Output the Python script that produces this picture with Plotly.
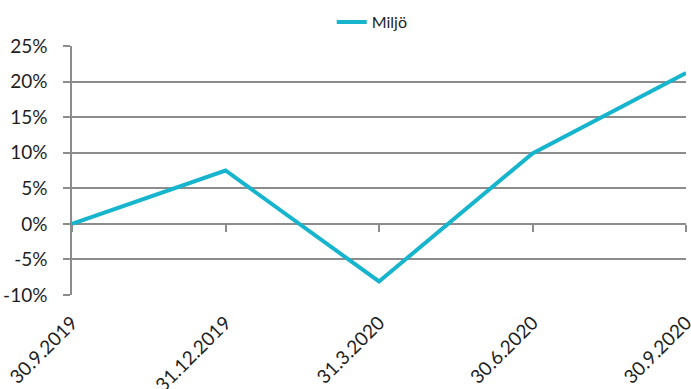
import plotly.graph_objects as go

dates = ["30.9.2019", "31.12.2019", "31.3.2020", "30.6.2020", "30.9.2020"]
miljo = [0.0, 7.5, -8.1, 9.9, 21.2]
y_ticks = [-10, -5, 0, 5, 10, 15, 20, 25]
y_labels = [f"{v}%" for v in y_ticks]

x_idx = list(range(len(dates)))
font = dict(family="Lato, Noto Sans, sans-serif", size=19, color="#1e1e1e")
grid = "#8c8c8c"

fig = go.Figure()
fig.add_trace(go.Scatter(x=x_idx, y=miljo, mode="lines", name="Miljö",
                         line=dict(color="#17B5CD", width=4)))

ymin, ymax = -10, 25
fig.update_layout(
    width=691, height=389,
    margin=dict(l=72, r=5, t=44, b=94),
    paper_bgcolor="white", plot_bgcolor="white",
    font=font,
    showlegend=True,
    legend=dict(orientation="h", x=0.489, xanchor="center", y=1.096, yanchor="middle",
                font=dict(family="Lato, Noto Sans, sans-serif", size=16, color="#1e1e1e"),
                itemwidth=30),
    xaxis=dict(range=[0, 4], tickvals=x_idx, ticktext=dates, tickangle=-45,
               showgrid=False, zeroline=False, showline=False, ticks="",
               tickfont=font, ticklabeloverflow="allow", automargin=False,
               ticklabelstandoff=12),
    xaxis2=dict(range=[0, 4], tickvals=x_idx, overlaying="x", anchor="free",
                position=(0 - ymin) / (ymax - ymin), side="bottom",
                showgrid=False, zeroline=False, showline=False, showticklabels=False,
                ticks="outside", ticklen=7, tickwidth=1.5, tickcolor=grid,
                automargin=False),
    yaxis=dict(range=[ymin, ymax], tickvals=y_ticks, ticktext=y_labels,
               showgrid=True, gridcolor=grid, gridwidth=1.5, zeroline=False,
               showline=True, linecolor=grid, linewidth=1.5,
               ticks="outside", ticklen=7, tickwidth=1.5, tickcolor=grid,
               ticklabelstandoff=12, tickfont=font, automargin=False),
)
fig.add_trace(go.Scatter(x=[0, 4], y=[None, None], xaxis="x2", showlegend=False,
                         hoverinfo="skip"))
fig.write_html("out.html")
